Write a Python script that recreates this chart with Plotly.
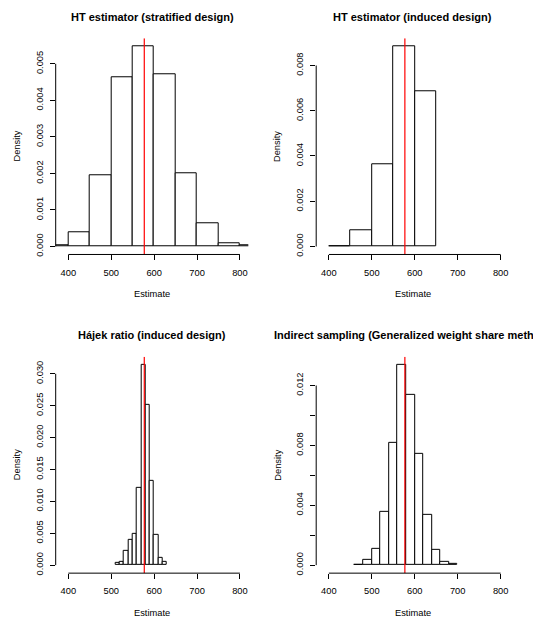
import plotly.graph_objects as go

# ---------------- data ----------------
titles = ["HT estimator (stratified design)",
          "HT estimator (induced design)",
          "Hájek ratio (induced design)",
          "Indirect sampling (Generalized weight share method)"]

breaks1 = [350, 400, 450, 500, 550, 600, 650, 700, 750, 800, 850]
dens1 = [0.00002, 0.00040, 0.00196, 0.00463, 0.00548, 0.00471, 0.00200, 0.00064, 0.00010, 0.00002]

breaks2 = [400, 450, 500, 550, 600, 650]
dens2 = [0.00003, 0.00071, 0.00363, 0.00885, 0.00684]

breaks3 = [510, 520, 530, 540, 550, 560, 570, 580, 590, 600, 610, 620, 630]
dens3 = [0.00038, 0.00053, 0.00225, 0.00397, 0.00491, 0.01216, 0.03140, 0.02515, 0.01314, 0.00470, 0.00116, 0.00047]

breaks4 = [460, 480, 500, 520, 540, 560, 580, 600, 620, 640, 660, 680, 700]
dens4 = [0.00004, 0.00036, 0.00107, 0.00356, 0.00820, 0.01338, 0.01136, 0.00744, 0.00333, 0.00100, 0.00022, 0.00007]

true_value = 577

x_ticks = [400, 500, 600, 700, 800]
y_ticks = [
    [0.000, 0.001, 0.002, 0.003, 0.004, 0.005],
    [0.000, 0.002, 0.004, 0.006, 0.008],
    [0.000, 0.005, 0.010, 0.015, 0.020, 0.025, 0.030],
    [0.000, 0.002, 0.004, 0.006, 0.008, 0.010, 0.012],
]
y_tick_labels = [
    ["0.000", "0.001", "0.002", "0.003", "0.004", "0.005"],
    ["0.000", "0.002", "0.004", "0.006", "0.008"],
    ["0.000", "0.005", "0.010", "0.015", "0.020", "0.025", "0.030"],
    ["0.000", "", "0.004", "", "0.008", "", "0.012"],
]

# ---------------- layout geometry ----------------
W, H = 533, 621
FONT = "Liberation Sans, Arial, Helvetica, sans-serif"
# plot regions in pixels (left, right, top, bottom)
boxes = [(55.7, 248.3, 38.4, 255.3), (316.2, 509.0, 38.4, 255.3),
         (55.7, 248.3, 358.0, 575.0), (316.2, 509.0, 358.0, 575.0)]
x_range = [370.5, 819.5]

all_breaks = [breaks1, breaks2, breaks3, breaks4]
all_dens = [dens1, dens2, dens3, dens4]

fig = go.Figure()
shapes = []
annotations = []

for i in range(4):
    br, de = all_breaks[i], all_dens[i]
    mids = [(br[k] + br[k + 1]) / 2 for k in range(len(de))]
    widths = [br[k + 1] - br[k] for k in range(len(de))]
    xa = "x" if i == 0 else f"x{i+1}"
    ya = "y" if i == 0 else f"y{i+1}"
    l, r, t, b = boxes[i]
    xd = [l / W, r / W]
    yd = [1 - b / H, 1 - t / H]
    ymax = max(de)
    yr = [-0.04 * ymax, 1.04 * ymax]

    fig.add_trace(go.Bar(x=mids, y=de, width=widths, xaxis=xa, yaxis=ya,
                         marker=dict(color="white", line=dict(color="black", width=1)),
                         showlegend=False, hoverinfo="skip"))
    # true value (vertical red line across the plot region)
    fig.add_trace(go.Scatter(x=[true_value, true_value], y=yr, xaxis=xa, yaxis=ya,
                             mode="lines", line=dict(color="#FF0000", width=1.2),
                             showlegend=False, hoverinfo="skip"))

    axis_common = dict(showgrid=False, zeroline=False, showline=False,
                       ticks="outside", ticklen=5, tickwidth=1, tickcolor="black",
                       tickfont=dict(family=FONT, size=9.3, color="black"))
    fig.layout[("xaxis" if i == 0 else f"xaxis{i+1}")] = dict(
        domain=xd, range=x_range, anchor=ya, tickvals=x_ticks,
        ticktext=[str(v) for v in x_ticks], ticklabelstandoff=4, **axis_common)
    fig.layout[("yaxis" if i == 0 else f"yaxis{i+1}")] = dict(
        domain=yd, range=yr, anchor=xa, tickvals=y_ticks[i],
        ticktext=y_tick_labels[i], tickangle=-90, ticklabelstandoff=3, **axis_common)

    def xpaper(v):
        return xd[0] + (v - x_range[0]) / (x_range[1] - x_range[0]) * (xd[1] - xd[0])

    def ypaper(v):
        return yd[0] + (v - yr[0]) / (yr[1] - yr[0]) * (yd[1] - yd[0])

    # axis lines from first to last tick (R style)
    shapes.append(dict(type="line", xref="paper", yref="paper",
                       x0=xpaper(x_ticks[0]), x1=xpaper(x_ticks[-1]), y0=yd[0], y1=yd[0],
                       line=dict(color="black", width=1)))
    shapes.append(dict(type="line", xref="paper", yref="paper",
                       x0=xd[0], x1=xd[0], y0=ypaper(y_ticks[i][0]), y1=ypaper(y_ticks[i][-1]),
                       line=dict(color="black", width=1)))
    # titles and axis labels
    cx = (xd[0] + xd[1]) / 2
    annotations.append(dict(text=f"<b>{titles[i]}</b>", xref="paper", yref="paper",
                            x=cx, y=1 - (t - 21.7) / H, xanchor="center", yanchor="middle",
                            showarrow=False, font=dict(family=FONT, size=11, color="black")))
    annotations.append(dict(text="Estimate", xref="paper", yref="paper",
                            x=cx, y=1 - (b + 40) / H, xanchor="center", yanchor="middle",
                            showarrow=False, font=dict(family=FONT, size=9.3, color="black")))
    annotations.append(dict(text="Density", xref="paper", yref="paper",
                            x=(l - 38.5) / W, y=(yd[0] + yd[1]) / 2, xanchor="center", yanchor="middle",
                            textangle=-90, showarrow=False,
                            font=dict(family=FONT, size=9.3, color="black")))

fig.update_layout(width=W, height=H, margin=dict(l=0, r=0, t=0, b=0),
                  paper_bgcolor="white", plot_bgcolor="white",
                  shapes=shapes, annotations=annotations, bargap=0)

fig.write_html("out.html", config={"displayModeBar": False},
               post_script="document.body.style.margin='0px';")
